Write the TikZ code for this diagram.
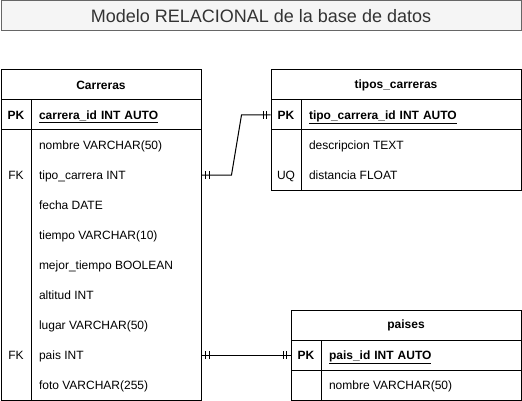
\documentclass[tikz,border=0pt]{standalone}
\usepackage{fontspec}
\setmainfont{Liberation Sans}
\usetikzlibrary{positioning, decorations.markings}
\definecolor{titlefill}{HTML}{F5F5F5}
\definecolor{titleline}{HTML}{666666}
\definecolor{titletext}{HTML}{333333}

\begin{document}
\begin{tikzpicture}[
    % GLOBAL CFG
    x=1pt, y=-1pt,
    font=\fontsize{12}{14}\selectfont,
    line width=1pt,
    % Styles
    title/.style={% For the title bar
        rectangle,
        draw=titleline,
        fill=titlefill,
        text=titletext,
        minimum width=520,
        minimum height=30,
        inner sep=0pt,
        font=\fontsize{18}{20}\selectfont,
        },
    tblhead/.style={% For the table name
        rectangle,
        draw,
        minimum height=30,
        inner sep=0pt,
        font=\fontsize{12}{14}\selectfont\bfseries,
        },
    keycell/.style={% For the PK box
        rectangle,
        draw,
        minimum width=30,
        minimum height=30,
        inner sep=0pt,
        font=\fontsize{12}{14}\selectfont\bfseries,
        },
    pkcell/.style={% For the primary key field
        rectangle,
        draw,
        minimum height=30,
        inner xsep=8pt,
        inner ysep=0pt,
        text height=8.6pt,
        text depth=0pt,
        align=left,
        font=\fontsize{12}{14}\selectfont\bfseries,
        },
    bodybox/.style={% For the rest of the table
        rectangle,
        draw,
        inner sep=0pt,
        },
    keytxt/.style={% FK and UQ marks
        inner sep=0pt,
        text height=8.6pt,
        text depth=0pt,
        },
    field/.style={% For the plain fields
        anchor=west,
        inner sep=0pt,
        text height=8.6pt,
        text depth=0pt,
        },
    relation/.style={% Connectors with two bars at each end
        postaction={decorate},
        decoration={markings,
            mark=at position 4pt with {\draw (0,-4) -- (0,4);},
            mark=at position 7.5pt with {\draw (0,-4) -- (0,4);},
            mark=at position -4pt with {\draw (0,-4) -- (0,4);},
            mark=at position -7.5pt with {\draw (0,-4) -- (0,4);},
            },
        }
    ]
    \useasboundingbox (0,0) rectangle (522,401);

%Start drawing the thing...
    % Draw the title
    \node [title] (title) at (261,16) {Modelo RELACIONAL de la base de datos};

    % Draw table Carreras, named c-#
    \node [tblhead, minimum width=200] (carreras) at (101,85) {Carreras};
    \node [keycell] (c-pkkey) at (16,115) {PK};
    \node [pkcell, text width=154] (c-pk) at (116,115) {\underline{carrera\_id INT AUTO}};
    \node [bodybox, minimum width=30, minimum height=270] (c-keys) at (16,265) {};
    \node [bodybox, minimum width=170, minimum height=270] (c-fields) at (116,265) {};
    \node [field] (c-nombre) at (38.5,145) {nombre VARCHAR(50)};
    \node [field] (c-tipo) at (38.5,175) {tipo\_carrera INT};
    \node [field] (c-fecha) at (38.5,205) {fecha DATE};
    \node [field] (c-tiempo) at (38.5,235) {tiempo VARCHAR(10)};
    \node [field] (c-mejor) at (38.5,265) {mejor\_tiempo BOOLEAN};
    \node [field] (c-altitud) at (38.5,295) {altitud INT};
    \node [field] (c-lugar) at (38.5,325) {lugar VARCHAR(50)};
    \node [field] (c-pais) at (38.5,355) {pais INT};
    \node [field] (c-foto) at (38.5,385) {foto VARCHAR(255)};
    \node [keytxt] (c-fk1) at (16,175) {FK};
    \node [keytxt] (c-fk2) at (16,355) {FK};

    % Draw table tipos_carreras, named t-#
    \node [tblhead, minimum width=250] (tipos) at (396,85) {tipos\_carreras};
    \node [keycell] (t-pkkey) at (286,115) {PK};
    \node [pkcell, text width=204] (t-pk) at (411,115) {\underline{tipo\_carrera\_id INT AUTO}};
    \node [bodybox, minimum width=30, minimum height=60] (t-keys) at (286,160) {};
    \node [bodybox, minimum width=220, minimum height=60] (t-fields) at (411,160) {};
    \node [field] (t-desc) at (308.5,145) {descripcion TEXT};
    \node [field] (t-dist) at (308.5,175) {distancia FLOAT};
    \node [keytxt] (t-uq) at (286,175) {UQ};

    % Draw table paises, named p-#
    \node [tblhead, minimum width=230] (paises) at (406,325) {paises};
    \node [keycell] (p-pkkey) at (306,355) {PK};
    \node [pkcell, text width=184] (p-pk) at (421,355) {\underline{pais\_id INT AUTO}};
    \node [bodybox, minimum width=30, minimum height=30] (p-keys) at (306,385) {};
    \node [bodybox, minimum width=200, minimum height=30] (p-fields) at (421,385) {};
    \node [field] (p-nombre) at (328.5,385) {nombre VARCHAR(50)};

% Start connecting all.
    \draw [relation] (c-tipo -| c-fields.east) -- ++(30,0) -- ++(10,-60) -- (t-pkkey.west);
    \draw [relation] (c-pais -| c-fields.east) -- (p-pkkey.west);

\end{tikzpicture}
\end{document}
